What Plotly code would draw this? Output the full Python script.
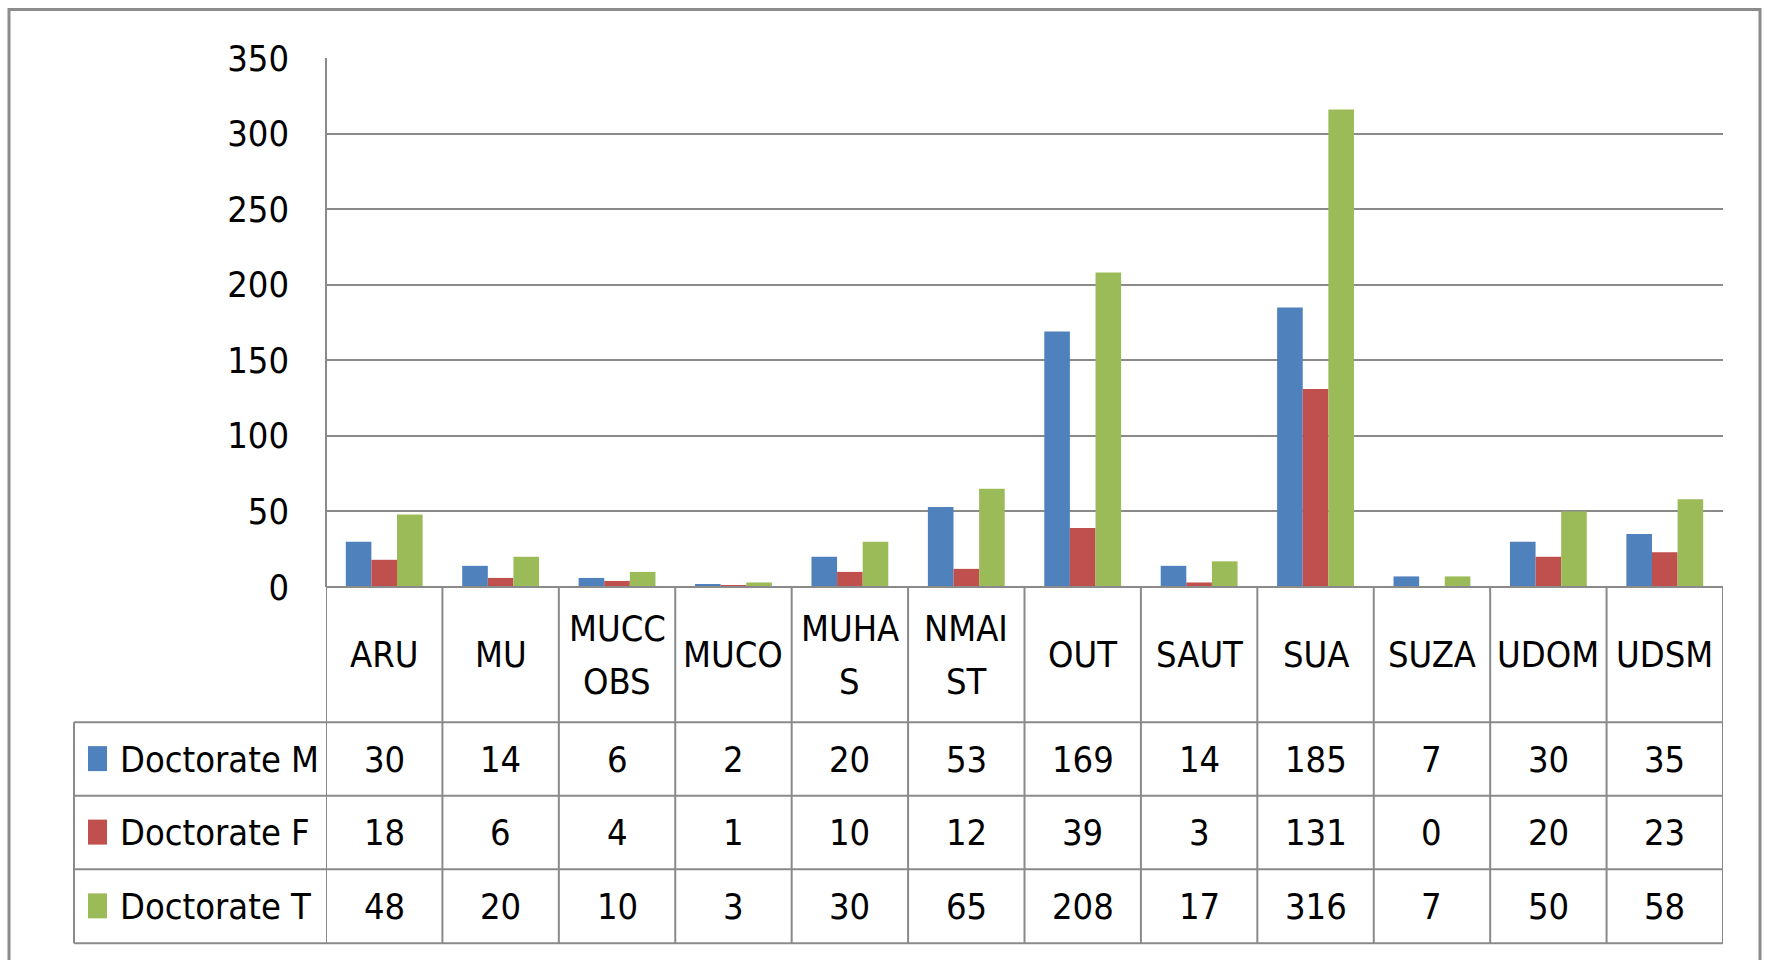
import plotly.graph_objects as go

categories = ["ARU", "MU", "MUCCOBS", "MUCO", "MUHAS", "NMAIST", "OUT", "SAUT", "SUA", "SUZA", "UDOM", "UDSM"]
category_labels = ["ARU", "MU", "MUCC<br>OBS", "MUCO", "MUHA<br>S", "NMAI<br>ST", "OUT", "SAUT", "SUA", "SUZA", "UDOM", "UDSM"]
doctorate_m = [30, 14, 6, 2, 20, 53, 169, 14, 185, 7, 30, 35]
doctorate_f = [18, 6, 4, 1, 10, 12, 39, 3, 131, 0, 20, 23]
doctorate_t = [48, 20, 10, 3, 30, 65, 208, 17, 316, 7, 50, 58]
series_names = ["Doctorate M", "Doctorate F", "Doctorate T"]
series_colors = ["#4F81BD", "#C0504D", "#9BBB59"]
y_ticks = [0, 50, 100, 150, 200, 250, 300, 350]

W, H = 1769, 960
PL, PR, PT, PB = 326, 1723, 57.5, 586.6
FONT = "DejaVu Sans Condensed, Liberation Sans Narrow, Arial Narrow, sans-serif"
GRID = "#8a8a8a"
FS = 36

def px(x):
    return (x - PL) / (PR - PL)

def py(y):
    return (PB - y) / (PB - PT)

fig = go.Figure()
for name, vals, col in zip(series_names, [doctorate_m, doctorate_f, doctorate_t], series_colors):
    fig.add_trace(go.Bar(x=categories, y=vals, name=name, marker=dict(color=col, line=dict(width=0))))

shapes = []
annotations = []
n = len(categories)
row_tops = [586.6, 722, 795.5, 869, 943]
table_left = 74
shapes.append(dict(type="line", xref="paper", yref="paper", x0=0, x1=1, y0=py(row_tops[0]), y1=py(row_tops[0]), line=dict(color=GRID, width=2)))
for yy in row_tops[1:]:
    shapes.append(dict(type="line", xref="paper", yref="paper", x0=px(table_left), x1=1, y0=py(yy), y1=py(yy), line=dict(color=GRID, width=2)))
shapes.append(dict(type="line", xref="paper", yref="paper", x0=px(table_left), x1=px(table_left), y0=py(row_tops[1]), y1=py(row_tops[-1]), line=dict(color=GRID, width=2)))
for i in range(n + 1):
    shapes.append(dict(type="line", xref="x", yref="paper", x0=i - 0.5, x1=i - 0.5, y0=py(row_tops[0]), y1=py(row_tops[-1]), line=dict(color=GRID, width=2)))
shapes.append(dict(type="line", xref="paper", yref="paper", x0=0, x1=0, y0=1, y1=py(row_tops[0]), line=dict(color=GRID, width=2)))
shapes.append(dict(type="rect", xref="paper", yref="paper", x0=px(9), x1=px(1760), y0=py(9), y1=py(1000), line=dict(color="#8c8c8c", width=3)))

hc = (row_tops[0] + row_tops[1]) / 2
for cat, lab in zip(categories, category_labels):
    lines = lab.split("<br>")
    k = len(lines)
    for j, ln in enumerate(lines):
        shift = ((k - 1) / 2 - j) * 53
        annotations.append(dict(x=cat, y=py(hc), xref="x", yref="paper", text=ln, yshift=shift,
                                showarrow=False, font=dict(family=FONT, size=FS, color="#000"), xanchor="center", yanchor="middle"))
for r, (name, vals, col) in enumerate(zip(series_names, [doctorate_m, doctorate_f, doctorate_t], series_colors)):
    yc = (row_tops[r + 1] + row_tops[r + 2]) / 2
    for cat, v in zip(categories, vals):
        annotations.append(dict(x=cat, y=py(yc), xref="x", yref="paper", text=str(v), showarrow=False,
                                font=dict(family=FONT, size=FS, color="#000"), xanchor="center", yanchor="middle"))
    annotations.append(dict(x=px(118), y=py(yc), xref="paper", yref="paper", text=name, showarrow=False,
                            font=dict(family=FONT, size=FS, color="#000"), xanchor="left", yanchor="middle"))
    shapes.append(dict(type="rect", xref="paper", yref="paper", x0=px(88), x1=px(107), y0=py(yc - 13), y1=py(yc + 12),
                       line=dict(width=0), fillcolor=col))

fig.update_layout(
    width=W, height=H,
    margin=dict(l=PL, r=W - PR, t=PT, b=H - PB, pad=0),
    paper_bgcolor="white", plot_bgcolor="white",
    barmode="group", bargap=0.34, bargroupgap=0,
    showlegend=False,
    font=dict(family=FONT, size=FS, color="#000"),
    xaxis=dict(type="category", range=[-0.5, n - 0.5], showticklabels=False, showgrid=False, zeroline=False, ticks=""),
    yaxis=dict(range=[0, 350], tickvals=y_ticks, showgrid=True, gridcolor=GRID, gridwidth=2, zeroline=False,
               showline=False, ticks="", ticklabelstandoff=36, tickfont=dict(family=FONT, size=FS, color="#000")),
    shapes=shapes, annotations=annotations,
)

fig.write_html("out.html", config={"displayModeBar": False},
               post_script="document.body.style.margin='0';document.body.style.overflow='hidden';")
